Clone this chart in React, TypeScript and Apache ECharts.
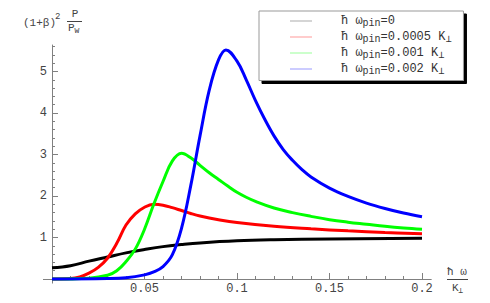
import React, { useEffect, useRef } from "react";
import * as echarts from "echarts";

const seriesNames = ["w0", "w0005", "w001", "w002"];
const legendLabels = [
  "{a|ħ ω}{s|pin}{a|=0}",
  "{a|ħ ω}{s|pin}{a|=0.0005 K}{s|⊥}",
  "{a|ħ ω}{s|pin}{a|=0.001 K}{s|⊥}",
  "{a|ħ ω}{s|pin}{a|=0.002 K}{s|⊥}",
];
const legendColors = ["#aaaaaa", "#ff9999", "#99ff99", "#9999ff"];
const lineColors = ["#000000", "#ff0000", "#00ff00", "#0000ff"];

const blackX = [0, 0.01, 0.02, 0.03, 0.04, 0.05, 0.06, 0.07, 0.08, 0.1, 0.12, 0.15, 0.2];
const blackY = [0.27, 0.32, 0.43, 0.53, 0.63, 0.71, 0.78, 0.83, 0.87, 0.92, 0.945, 0.965, 0.985];

const redX = [0, 0.01, 0.015, 0.02, 0.025, 0.03, 0.035, 0.04, 0.045, 0.05, 0.055, 0.06, 0.065, 0.07, 0.075, 0.08, 0.09, 0.1, 0.12, 0.14, 0.16, 0.18, 0.2];
const redY = [0, 0.01, 0.05, 0.14, 0.28, 0.5, 0.86, 1.3, 1.57, 1.73, 1.8, 1.78, 1.72, 1.65, 1.58, 1.52, 1.43, 1.36, 1.27, 1.21, 1.16, 1.12, 1.09];

const greenX = [0, 0.02, 0.03, 0.035, 0.04, 0.045, 0.05, 0.055, 0.06, 0.065, 0.07, 0.075, 0.08, 0.085, 0.09, 0.095, 0.1, 0.105, 0.11, 0.12, 0.13, 0.14, 0.15, 0.16, 0.17, 0.18, 0.19, 0.2];
const greenY = [0, 0.02, 0.09, 0.2, 0.42, 0.72, 1.2, 1.8, 2.35, 2.84, 3.03, 2.92, 2.74, 2.56, 2.4, 2.24, 2.09, 1.97, 1.87, 1.71, 1.6, 1.51, 1.43, 1.37, 1.32, 1.27, 1.23, 1.2];

const blueX = [0, 0.03, 0.04, 0.05, 0.055, 0.06, 0.065, 0.07, 0.075, 0.08, 0.085, 0.09, 0.094, 0.1, 0.105, 0.11, 0.115, 0.12, 0.125, 0.13, 0.135, 0.14, 0.15, 0.16, 0.17, 0.18, 0.19, 0.2];
const blueY = [0, 0.01, 0.03, 0.1, 0.17, 0.3, 0.58, 1.22, 2.25, 3.45, 4.55, 5.28, 5.52, 5.25, 4.8, 4.3, 3.85, 3.45, 3.12, 2.86, 2.64, 2.46, 2.19, 1.99, 1.83, 1.7, 1.59, 1.5];

const xMajorTicks = [0.05, 0.1, 0.15, 0.2];
const xMinorTicks = [0.01, 0.02, 0.03, 0.04, 0.06, 0.07, 0.08, 0.09, 0.11, 0.12, 0.13, 0.14, 0.16, 0.17, 0.18, 0.19];
const xTickLabels = ["0.05", "0.1", "0.15", "0.2"];
const yMajorTicks = [1, 2, 3, 4, 5];
const yMinorTicks = [0.2, 0.4, 0.6, 0.8, 1.2, 1.4, 1.6, 1.8, 2.2, 2.4, 2.6, 2.8, 3.2, 3.4, 3.6, 3.8, 4.2, 4.4, 4.6, 4.8, 5.2, 5.4, 5.6];
const yTickLabels = ["1", "2", "3", "4", "5"];

const FONT = "'Liberation Mono', 'DejaVu Sans Mono', monospace";
const TXT = "#444444";
const AX = "#808080";

function pairs(xs: number[], ys: number[]) {
  return xs.map((x, i) => [x, ys[i]]);
}

export default function App() {
  const ref = useRef<HTMLDivElement>(null);
  useEffect(() => {
    if (!ref.current) return;
    const chart = echarts.init(ref.current, undefined, { renderer: "svg" });
    const datas = [pairs(blackX, blackY), pairs(redX, redY), pairs(greenX, greenY), pairs(blueX, blueY)];
    const xRange = { min: 0, max: 0.205 };
    const yRange = { min: 0, max: 5.64 };
    const xAxisBase = (major: boolean) => ({
      type: "value",
      position: "bottom",
      ...xRange,
      axisLine: { show: major, onZero: false, lineStyle: { color: AX, width: 1 } },
      splitLine: { show: false },
      axisTick: {
        show: true,
        inside: true,
        length: major ? 6 : 3,
        customValues: major ? xMajorTicks : xMinorTicks,
        lineStyle: { color: AX },
      },
      axisLabel: major
        ? {
            show: true,
            customValues: xMajorTicks,
            formatter: (v: number) => xTickLabels[xMajorTicks.indexOf(Number(v.toFixed(3)))] ?? "",
            fontFamily: FONT,
            fontSize: 12,
            color: TXT,
            margin: 4,
          }
        : { show: false },
    });
    const yAxisBase = (major: boolean) => ({
      type: "value",
      position: "left",
      ...yRange,
      axisLine: { show: major, onZero: false, lineStyle: { color: AX, width: 1 } },
      splitLine: { show: false },
      axisTick: {
        show: true,
        inside: true,
        length: major ? 6 : 3,
        customValues: major ? yMajorTicks : yMinorTicks,
        lineStyle: { color: AX },
      },
      axisLabel: major
        ? {
            show: true,
            customValues: yMajorTicks,
            formatter: (v: number) => yTickLabels[yMajorTicks.indexOf(Math.round(v))] ?? "",
            fontFamily: FONT,
            fontSize: 12,
            color: TXT,
            margin: 5,
          }
        : { show: false },
    });
    chart.setOption({
      animation: false,
      backgroundColor: "#ffffff",
      grid: { left: 52, right: 58.75, top: 45, bottom: 24, containLabel: false },
      xAxis: [xAxisBase(true), xAxisBase(false)],
      yAxis: [yAxisBase(true), yAxisBase(false)],
      legend: {
        orient: "vertical",
        left: 259,
        top: 11,
        padding: [4, 12, 4, 31],
        icon: "rect",
        itemWidth: 22,
        itemHeight: 1,
        itemGap: 2.5,
        backgroundColor: "#ffffff",
        borderColor: "#999999",
        borderWidth: 1,
        shadowColor: "#000000",
        shadowBlur: 0,
        shadowOffsetX: 3,
        shadowOffsetY: 3,
        selectedMode: false,
        data: seriesNames.map((n, i) => ({
          name: n,
          icon: "rect",
          itemStyle: { color: legendColors[i], borderWidth: 0 },
        })),
        formatter: (name: string) => legendLabels[seriesNames.indexOf(name)],
        textStyle: {
          padding: [0, 0, 0, 24],
          rich: {
            a: { fontFamily: FONT, fontSize: 12, color: "#333333" },
            s: { fontFamily: FONT, fontSize: 10, color: "#333333", verticalAlign: "bottom", padding: [5, 0, 0, 0] },
          },
        },
      },
      series: datas.map((d, i) => ({
        name: seriesNames[i],
        type: "line",
        xAxisIndex: 0,
        yAxisIndex: 0,
        data: d,
        smooth: 0.4,
        symbol: "none",
        showSymbol: false,
        clip: false,
        lineStyle: { color: lineColors[i], width: 3 },
        itemStyle: { color: lineColors[i] },
        z: 2 + i * 0.01,
      })),
      graphic: [
        { type: "line", shape: { x1: 43, y1: 279.5, x2: 52.5, y2: 279.5 }, style: { stroke: AX, lineWidth: 1 } },
        { type: "line", shape: { x1: 52.5, y1: 279, x2: 52.5, y2: 283.5 }, style: { stroke: AX, lineWidth: 1 } },
        { type: "text", x: 23, y: 23, style: { text: "(1+β)", font: `11px ${FONT}`, fill: TXT, verticalAlign: "middle", align: "left" } },
        { type: "text", x: 55, y: 17, style: { text: "2", font: `9px ${FONT}`, fill: TXT, verticalAlign: "middle", align: "left" } },
        { type: "text", x: 75, y: 14, style: { text: "P", font: `11px ${FONT}`, fill: TXT, verticalAlign: "middle", align: "center" } },
        { type: "line", shape: { x1: 67, y1: 21.5, x2: 82, y2: 21.5 }, style: { stroke: TXT, lineWidth: 1 } },
        {
          type: "text",
          x: 68,
          y: 28,
          style: {
            text: "{a|P}{b|W}",
            fill: TXT,
            verticalAlign: "middle",
            align: "left",
            rich: { a: { fontFamily: FONT, fontSize: 11, fill: TXT }, b: { fontFamily: FONT, fontSize: 8, fill: TXT, padding: [4, 0, 0, 0] } },
          },
        },
        { type: "text", x: 457, y: 272, style: { text: "ħ ω", font: `11px ${FONT}`, fill: TXT, verticalAlign: "middle", align: "center" } },
        { type: "line", shape: { x1: 447, y1: 279.5, x2: 468, y2: 279.5 }, style: { stroke: TXT, lineWidth: 1 } },
        {
          type: "text",
          x: 452,
          y: 288,
          style: {
            text: "{a|K}{b|⊥}",
            fill: TXT,
            verticalAlign: "middle",
            align: "left",
            rich: { a: { fontFamily: FONT, fontSize: 11, fill: TXT }, b: { fontFamily: FONT, fontSize: 8, fill: TXT, padding: [4, 0, 0, 0] } },
          },
        },
      ],
    });
    return () => chart.dispose();
  }, []);
  return <div ref={ref} style={{ width: 490, height: 303, position: "absolute", left: 0, top: 0 }} />;
}
